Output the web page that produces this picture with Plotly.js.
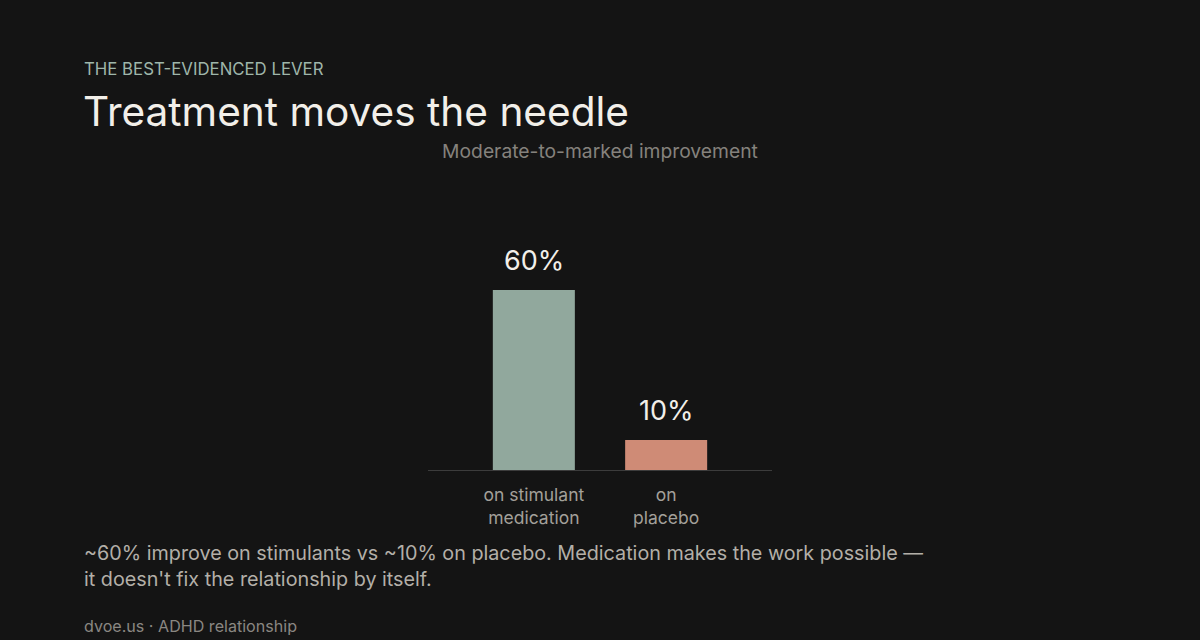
<!DOCTYPE html>
<html>
<head>
<meta charset="utf-8">
<script src="https://cdn.plot.ly/plotly-3.0.1.min.js"></script>
<style>
html,body{margin:0;padding:0;background:#141414;}
#chart{width:1200px;height:640px;}
</style>
</head>
<body>
<div id="chart"></div>
<script>
const categories = ["on stimulant<br>medication", "on<br>placebo"];
const values = [60, 10];
const valueLabels = ["60%", "10%"];
const barColors = ["#91a89d", "#cf8b76"];

const W = 1200, H = 640;
const M = {l: 428, r: 428, t: 260, b: 170};
const pw = W - M.l - M.r, ph = H - M.t - M.b;
const px = x => (x - M.l) / pw;
const py = y => (H - M.b - y) / ph;

const FONT = "Inter, 'Noto Sans', sans-serif";

const trace = {
  type: "bar",
  x: categories,
  y: values,
  cliponaxis: false,
  marker: {color: barColors, line: {width: 0}},
  width: 0.62,
  hoverinfo: "skip"
};

const valueAnnotations = categories.map((c, i) => ({
  x: c, y: values[i], xref: "x", yref: "y",
  text: valueLabels[i], showarrow: false,
  xanchor: "center", yanchor: "bottom", yshift: 11,
  font: {family: FONT, size: 27, color: "#f2efe9"}
}));

const layout = {
  width: W, height: H,
  paper_bgcolor: "#141414",
  plot_bgcolor: "#141414",
  margin: M,
  showlegend: false,
  font: {family: FONT},
  title: {
    text: "Moderate-to-marked improvement",
    font: {family: FONT, size: 19.3, color: "#85827d"},
    x: 0.5, xref: "container", xanchor: "center",
    y: 1 - 151/640, yref: "container", yanchor: "middle"
  },
  xaxis: {
    range: [-0.8, 1.8],
    showgrid: false, zeroline: false,
    showline: true, linecolor: "#3c3c3c", linewidth: 1,
    ticks: "", ticklabelstandoff: 9,
    tickfont: {family: FONT, size: 17.5, color: "#a3a09a"},
    fixedrange: true
  },
  yaxis: {
    range: [0, 70],
    visible: false, showgrid: false, zeroline: false,
    fixedrange: true
  },
  annotations: valueAnnotations.concat([
    {text: "THE BEST-EVIDENCED LEVER", x: px(82), y: py(69), xref: "paper", yref: "paper",
     xanchor: "left", yanchor: "middle", showarrow: false,
     font: {family: FONT, size: 16.8, color: "#9fb6aa"}},
    {text: "Treatment moves the needle", x: px(81), y: py(111), xref: "paper", yref: "paper",
     xanchor: "left", yanchor: "middle", showarrow: false,
     font: {family: FONT, size: 40.6, color: "#f2efe9"}},
    {text: "~60% improve on stimulants vs ~10% on placebo. Medication makes the work possible —<br>it doesn't fix the relationship by itself.",
     x: px(82), y: py(566), xref: "paper", yref: "paper",
     xanchor: "left", yanchor: "middle", align: "left", showarrow: false,
     font: {family: FONT, size: 19.75, color: "#b3afa8"}},
    {text: "dvoe.us · ADHD relationship", x: px(82), y: py(626), xref: "paper", yref: "paper",
     xanchor: "left", yanchor: "middle", showarrow: false,
     font: {family: FONT, size: 16.1, color: "#8a8782"}}
  ])
};

Plotly.newPlot("chart", [trace], layout, {displayModeBar: false, staticPlot: true});
</script>
</body>
</html>
